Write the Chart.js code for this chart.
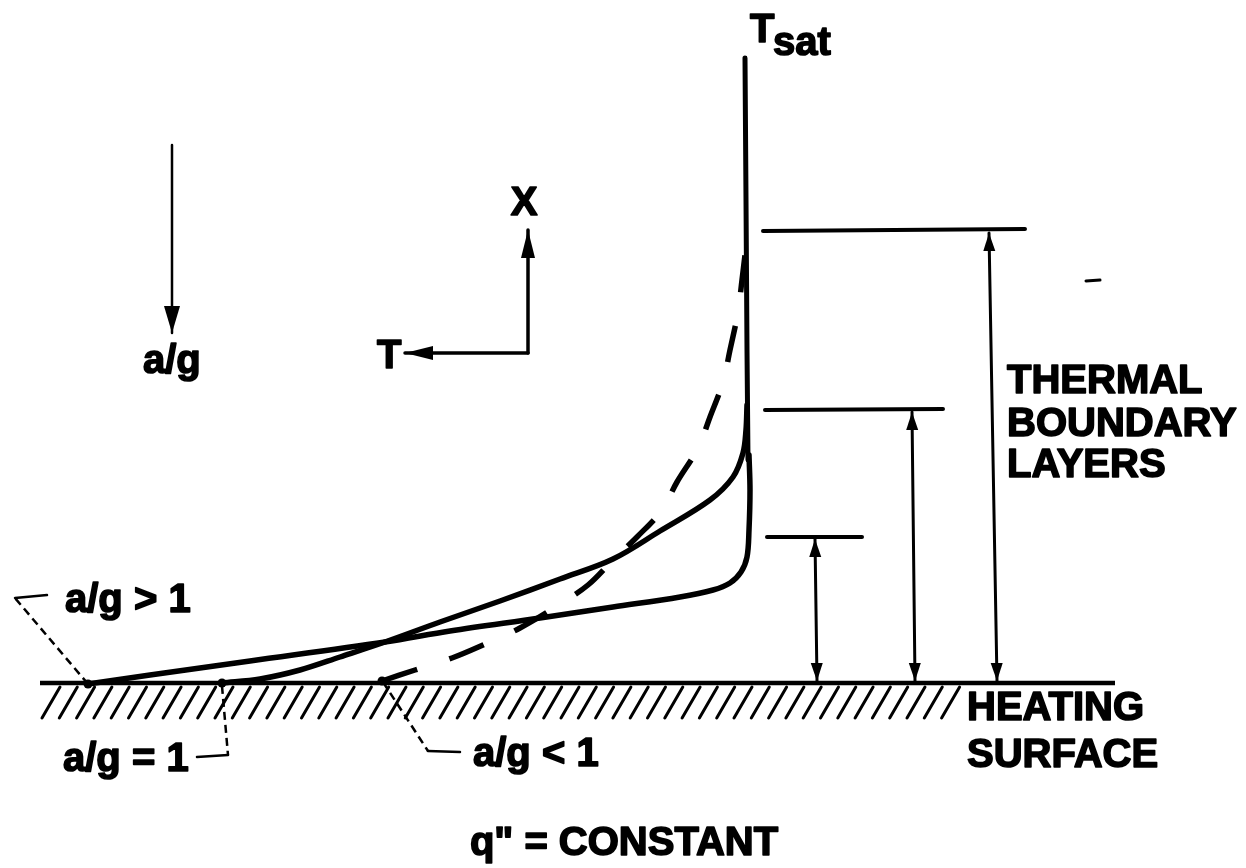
<!DOCTYPE html>
<html><head><meta charset="utf-8">
<script src="https://cdn.jsdelivr.net/npm/chart.js@4.4.1/dist/chart.umd.min.js"></script>
<style>html,body{margin:0;padding:0;background:#fff;overflow:hidden}canvas{display:block}</style>
</head><body>
<canvas id="c" width="1246" height="868"></canvas>
<script>
// ---- data (diagram space: x = T direction, y = height, pixel-like units) ----
const curveAgGreater = [[88,684],[150,675],[250,661],[385,642],[450,631],[540,618],[613,607],[680,597],[713,590],[730,583],[741,572],[747,557],[749,530],[750,490],[749,455]];
const curveAgEqual   = [[222,683],[260,679],[300,670],[340,657],[385,642],[440,622],[500,601],[560,579],[613,559],[660,531],[710,500],[733,477],[743,453],[746,430],[747,405]];
const curveAgLess    = [[382,681],[415,670],[452,658],[483,645],[520,628],[560,604],[588,585],[613,560],[637,537],[662,510],[677,482],[698,448],[710,417],[723,382],[730,350],[738,312],[742,280],[745,255]];
const tsatLine       = [[745,58],[746,200],[747,350],[748,460]];
const surfaceLine    = [[40,683],[1115,683]];
const boundaryTops   = [[[763,231],[1025,229]],[[765,410],[943,409]],[[767,537],[862,537]]];
const boundaryArrows = [[[989,233],[997,681]],[[912,412],[915,681]],[[815,539],[817,681]]];
const leaderDashed   = [[[88,684],[15,598]],[[222,686],[228,755]],[[383,682],[428,751]]];
const leaderSolid    = [[[15,598],[47,595]],[[228,755],[197,757]],[[428,751],[460,752]]];
const startDots      = [[88,684],[222,683],[382,681]];
const gravityArrow   = [[172,145],[172,333]];
const axisX          = [[528,353],[528,230]];
const axisT          = [[528,353],[405,353]];
const hatchRange     = [42, 960];
const hatchDepth     = [687, 718];
const labels = ['T','sat','X','T','a/g','THERMAL','BOUNDARY','LAYERS','HEATING','SURFACE','a/g > 1','a/g = 1','a/g < 1','q" = CONSTANT'];
const labelAnchors = [[750,42,'left'],[773,55,'left'],[524,215,'center'],[377,368,'left'],[143,373,'left'],[1007,393,'left'],[1007,436,'left'],[1007,477,'left'],[967,720,'left'],[967,767,'left'],[65,612,'left'],[63,771,'left'],[473,766,'left'],[624,855,'center']];
const strayMarks = [[[1086,281],[1100,280]]];

const toPts = a => a.map(p => ({x:p[0], y:p[1]}));
const ds = [];
function line(points, w, opts={}) {
  ds.push(Object.assign({data: toPts(points), showLine:true, borderColor:'#000', backgroundColor:'#000',
    borderWidth:w, pointRadius:0, tension:0, borderCapStyle:'round', borderJoinStyle:'round'}, opts));
}
line(curveAgGreater, 5.5, {tension:0.35});
line(curveAgEqual, 5.5, {tension:0.35});
line(curveAgLess, 5.5, {tension:0.35, borderDash:[37,34], borderCapStyle:'butt'});
line(tsatLine, 5);
line(surfaceLine, 4.5, {borderCapStyle:'butt'});
boundaryTops.forEach(s => line(s, 4));
boundaryArrows.forEach(s => line(s, 3));
leaderDashed.forEach(s => line(s, 2.5, {borderDash:[8,5], borderCapStyle:'butt'}));
leaderSolid.forEach(s => line(s, 2.5));
line(gravityArrow, 2.5);
line(axisX, 3.5); line(axisT, 3.5);
strayMarks.forEach(s => line(s, 3));

function P(chart, p){ return [chart.scales.x.getPixelForValue(p[0]), chart.scales.y.getPixelForValue(p[1])]; }
function head(ctx, tip, from, len, hw){
  const dx = tip[0]-from[0], dy = tip[1]-from[1], L = Math.hypot(dx,dy);
  const ux = dx/L, uy = dy/L, bx = tip[0]-ux*len, by = tip[1]-uy*len;
  ctx.beginPath(); ctx.moveTo(tip[0],tip[1]);
  ctx.lineTo(bx - uy*hw, by + ux*hw); ctx.lineTo(bx + uy*hw, by - ux*hw); ctx.closePath(); ctx.fill();
}
const deco = {
  id:'deco',
  afterDatasetsDraw(chart){
    const ctx = chart.ctx; ctx.save();
    ctx.strokeStyle = '#000'; ctx.fillStyle = '#000';
    // hatching under the heating surface
    ctx.lineWidth = 3; ctx.lineCap = 'round';
    for (let x = hatchRange[0]; x + 18 <= hatchRange[1]; x += 17.3) {
      const a = P(chart,[x,hatchDepth[1]]), b = P(chart,[x+18,hatchDepth[0]]);
      ctx.beginPath(); ctx.moveTo(a[0],a[1]); ctx.lineTo(b[0],b[1]); ctx.stroke();
    }
    // arrowheads
    const g0 = P(chart,gravityArrow[0]), g1 = P(chart,gravityArrow[1]);
    head(ctx, g1, g0, 27, 8);
    head(ctx, P(chart,axisX[1]), P(chart,axisX[0]), 28, 7);
    head(ctx, P(chart,axisT[1]), P(chart,axisT[0]), 28, 7);
    boundaryArrows.forEach(s => { const a = P(chart,s[0]), b = P(chart,s[1]); head(ctx,a,b,18,6); head(ctx,b,a,18,6); });
    // start dots
    startDots.forEach(d => { const p = P(chart,d); ctx.beginPath(); ctx.arc(p[0],p[1],4.5,0,Math.PI*2); ctx.fill(); });
    // labels (heavy bold like the original lettering)
    ctx.font = 'bold 40px "Liberation Sans", Arial, Helvetica, sans-serif';
    ctx.textBaseline = 'alphabetic';
    ctx.lineWidth = 1.6; ctx.lineJoin = 'round';
    labels.forEach((t,i) => { const a = labelAnchors[i]; const p = P(chart,[a[0],a[1]]); ctx.textAlign = a[2]; ctx.fillText(t, p[0], p[1]); ctx.strokeText(t, p[0], p[1]); });
    ctx.restore();
  }
};

new Chart(document.getElementById('c'), {
  type:'scatter',
  data:{datasets: ds},
  options:{
    responsive:false, animation:false, devicePixelRatio:1,
    layout:{padding:0},
    plugins:{legend:{display:false}, tooltip:{enabled:false}},
    scales:{
      x:{type:'linear', min:0, max:1246, display:false},
      y:{type:'linear', min:0, max:868, reverse:true, display:false}
    },
    elements:{point:{radius:0}}
  },
  plugins:[deco]
});
</script>
</body></html>
